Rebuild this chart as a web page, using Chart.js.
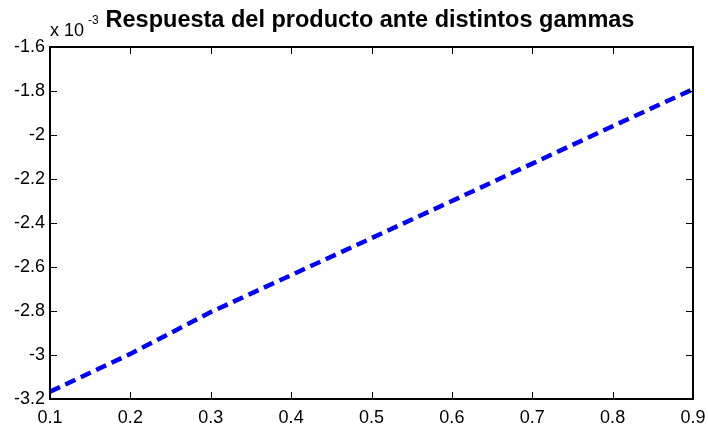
<!DOCTYPE html>
<html>
<head>
<meta charset="utf-8">
<script src="https://cdn.jsdelivr.net/npm/chart.js@4/dist/chart.umd.min.js"></script>
<style>
html,body{margin:0;padding:0;background:#fff;}
#wrap{width:708px;height:429px;position:relative;}
</style>
</head>
<body>
<div id="wrap"><canvas id="c" width="708" height="429"></canvas></div>
<script>
const gammas = [0.1, 0.2, 0.3, 0.4, 0.5, 0.6, 0.7, 0.8, 0.9];
const respuesta = [-3.167e-3, -2.995e-3, -2.805e-3, -2.637e-3, -2.469e-3, -2.300e-3, -2.130e-3, -1.960e-3, -1.792e-3];
const xTicks = [0.1, 0.2, 0.3, 0.4, 0.5, 0.6, 0.7, 0.8, 0.9];
const yTicks = [-3.2e-3, -3.0e-3, -2.8e-3, -2.6e-3, -2.4e-3, -2.2e-3, -2.0e-3, -1.8e-3, -1.6e-3];
const titleText = 'Respuesta del producto ante distintos gammas';
const FONT = '"Liberation Sans", Arial, sans-serif';

const boxPlugin = {
  id: 'boxPlugin',
  afterDraw(chart) {
    const ctx = chart.ctx, a = chart.chartArea;
    const xs = chart.scales.x, ys = chart.scales.y;
    ctx.save();
    ctx.strokeStyle = '#000';
    ctx.lineWidth = 2;
    ctx.strokeRect(a.left, a.top, a.right - a.left, a.bottom - a.top);
    ctx.lineWidth = 1;
    const tl = 7;
    ctx.beginPath();
    xTicks.forEach(v => {
      const px = Math.round(xs.getPixelForValue(v)) + 0.5;
      ctx.moveTo(px, a.bottom); ctx.lineTo(px, a.bottom - tl);
      ctx.moveTo(px, a.top); ctx.lineTo(px, a.top + tl);
    });
    yTicks.forEach(v => {
      const py = Math.round(ys.getPixelForValue(v)) + 0.5;
      ctx.moveTo(a.left, py); ctx.lineTo(a.left + tl, py);
      ctx.moveTo(a.right, py); ctx.lineTo(a.right - tl, py);
    });
    ctx.stroke();
    // title
    ctx.fillStyle = '#000';
    ctx.font = 'bold 23.5px ' + FONT;
    ctx.textAlign = 'center';
    ctx.textBaseline = 'alphabetic';
    ctx.fillText(titleText, 370, 27);
    // exponent
    ctx.font = '18px ' + FONT;
    ctx.textAlign = 'left';
    ctx.fillText('x 10', 50, 36);
    ctx.font = '12px ' + FONT;
    ctx.fillText('-3', 88, 24);
    ctx.restore();
  }
};

new Chart(document.getElementById('c'), {
  type: 'line',
  data: {
    datasets: [{
      data: gammas.map((g, i) => ({x: g, y: respuesta[i]})),
      borderColor: '#0000ff',
      borderWidth: 4.5,
      borderDash: [11, 6],
      borderCapStyle: 'butt',
      pointRadius: 0,
      tension: 0,
      fill: false
    }]
  },
  plugins: [boxPlugin],
  options: {
    responsive: false,
    animation: false,
    layout: {padding: {top: 47, right: 15, left: 0, bottom: 0}},
    plugins: {legend: {display: false}, tooltip: {enabled: false}, title: {display: false}},
    scales: {
      x: {
        type: 'linear', min: 0.1, max: 0.9,
        afterBuildTicks: s => { s.ticks = xTicks.map(v => ({value: v})); },
        afterFit: s => { s.height = 30; s.paddingLeft = 0; s.paddingRight = 0; },
        grid: {display: false, drawTicks: false},
        border: {display: false},
        ticks: {
          color: '#000', padding: 8, maxRotation: 0,
          font: {family: FONT, size: 18},
          callback: v => (Math.round(v * 10) / 10).toString()
        }
      },
      y: {
        type: 'linear', min: -3.2e-3, max: -1.6e-3,
        afterBuildTicks: s => { s.ticks = yTicks.map(v => ({value: v})); },
        afterFit: s => { s.width = 50; s.paddingTop = 0; s.paddingBottom = 0; },
        grid: {display: false, drawTicks: false},
        border: {display: false},
        ticks: {
          color: '#000', padding: 5,
          font: {family: FONT, size: 18},
          callback: v => (Math.round(v * 10000) / 10).toString()
        }
      }
    }
  }
});
</script>
</body>
</html>
